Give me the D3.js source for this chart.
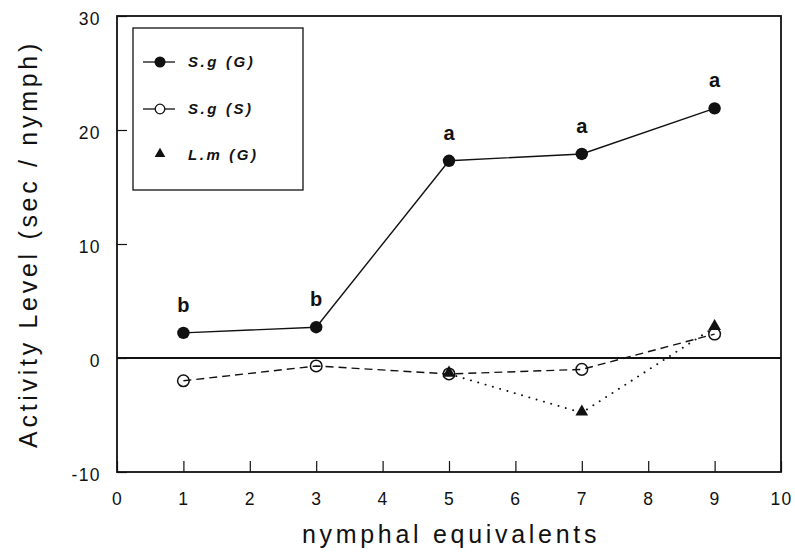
<!DOCTYPE html>
<html>
<head>
<meta charset="utf-8">
<script src="https://d3js.org/d3.v7.min.js"></script>
<style>
  html, body { margin:0; padding:0; background:#fff; }
  svg text { font-family: "Liberation Sans", Arial, Helvetica, sans-serif; fill:#111; }
  .tick text { font-size:17.5px; letter-spacing:1.4px; }
  .axis-title { font-size:25px; letter-spacing:3.7px; }
  .sig { font-size:20px; font-weight:bold; }
  .leg { font-size:15px; font-weight:bold; font-style:italic; letter-spacing:2.6px; }
</style>
</head>
<body>
<svg id="chart"></svg>
<script>
const W = 795, H = 554;

// values
const xValues = [1, 3, 5, 7, 9];
const sgG = [2.2, 2.7, 17.3, 17.9, 21.9];
const sgS = [-2.0, -0.7, -1.4, -1.0, 2.1];
const lmX = [5, 7, 9];
const lmG = [-1.4, -4.8, 2.7];
const sigLetters = ['b', 'b', 'a', 'a', 'a'];
const seriesNames = ['S.g (G)', 'S.g (S)', 'L.m (G)'];
const xTicks = [0, 1, 2, 3, 4, 5, 6, 7, 8, 9, 10];
const yTicks = [-10, 0, 10, 20, 30];

const M = {top:16, right:14, bottom:82, left:117};
const iw = W - M.left - M.right, ih = H - M.top - M.bottom;

const svg = d3.select('#chart').attr('width', W).attr('height', H);
const g = svg.append('g').attr('transform', `translate(${M.left},${M.top})`);

const x = d3.scaleLinear().domain([0, 10]).range([0, iw]);
const y = d3.scaleLinear().domain([-10, 30]).range([ih, 0]);

// axes (ticks point inward, plain hyphen for negatives)
const fmt = d => String(d);
const xAx = g.append('g').attr('transform', `translate(0,${ih})`)
  .call(d3.axisBottom(x).tickValues(xTicks).tickFormat(fmt)
    .tickSizeInner(-11).tickSizeOuter(0).tickPadding(21));
const yAx = g.append('g')
  .call(d3.axisLeft(y).tickValues(yTicks).tickFormat(fmt)
    .tickSizeInner(-10).tickSizeOuter(0).tickPadding(16));
[xAx, yAx].forEach(a => {
  a.select('.domain').remove();
  a.selectAll('.tick line').attr('stroke', '#111').attr('stroke-width', 1.2);
});
yAx.selectAll('.tick text').attr('dy', '0.47em');

// frame
g.append('rect').attr('width', iw).attr('height', ih)
  .attr('fill', 'none').attr('stroke', '#111').attr('stroke-width', 1.8);

// zero line
g.append('line').attr('x1', 0).attr('x2', iw).attr('y1', y(0)).attr('y2', y(0))
  .attr('stroke', '#111').attr('stroke-width', 1.8);

const line = d3.line().x(d => x(d[0])).y(d => y(d[1]));
const ptsG = xValues.map((v, i) => [v, sgG[i]]);
const ptsS = xValues.map((v, i) => [v, sgS[i]]);
const ptsL = lmX.map((v, i) => [v, lmG[i]]);

g.append('path').datum(ptsG).attr('d', line)
  .attr('fill', 'none').attr('stroke', '#111').attr('stroke-width', 1.4);
g.append('path').datum(ptsS).attr('d', line)
  .attr('fill', 'none').attr('stroke', '#111').attr('stroke-width', 1.4)
  .attr('stroke-dasharray', '8,5');
g.append('path').datum(ptsL).attr('d', line)
  .attr('fill', 'none').attr('stroke', '#111').attr('stroke-width', 1.9)
  .attr('stroke-linecap', 'round').attr('stroke-dasharray', '0.1,7.5');

g.selectAll('.pS').data(ptsS).join('circle')
  .attr('cx', d => x(d[0])).attr('cy', d => y(d[1])).attr('r', 5.8)
  .attr('fill', 'none').attr('stroke', '#111').attr('stroke-width', 1.5);
const tri = d3.symbol().type(d3.symbolTriangle).size(70);
g.selectAll('.pL').data(ptsL).join('path')
  .attr('transform', d => `translate(${x(d[0])},${y(d[1]) - 1})`)
  .attr('d', tri).attr('fill', '#111');
g.selectAll('.pG').data(ptsG).join('circle')
  .attr('cx', d => x(d[0])).attr('cy', d => y(d[1])).attr('r', 6.2)
  .attr('fill', '#111');

// significance letters
g.selectAll('.sig').data(ptsG).join('text').attr('class', 'sig')
  .attr('x', d => x(d[0])).attr('y', d => y(d[1]) - 21)
  .attr('text-anchor', 'middle').text((d, i) => sigLetters[i]);

// axis titles
svg.append('text').attr('class', 'axis-title')
  .attr('x', M.left + iw / 2 + 2).attr('y', 543).attr('text-anchor', 'middle')
  .text('nymphal equivalents');
svg.append('text').attr('class', 'axis-title')
  .attr('transform', `translate(37,${M.top + ih / 2}) rotate(-90)`)
  .attr('text-anchor', 'middle').text('Activity Level (sec / nymph)');

// legend
const lg = svg.append('g').attr('transform', 'translate(133,28)');
lg.append('rect').attr('width', 170).attr('height', 162)
  .attr('fill', '#fff').attr('stroke', '#111').attr('stroke-width', 1.3);
const legY = [34, 81, 127];
seriesNames.forEach((name, i) => {
  const row = lg.append('g').attr('transform', `translate(0,${legY[i]})`);
  if (i < 2) row.append('line').attr('x1', 10).attr('x2', 42)
    .attr('stroke', '#111').attr('stroke-width', 1.3);
  if (i === 0) row.append('circle').attr('cx', 27).attr('r', 5.5).attr('fill', '#111');
  if (i === 1) row.append('circle').attr('cx', 27).attr('r', 4.8).attr('fill', '#fff')
    .attr('stroke', '#111').attr('stroke-width', 1.3);
  if (i === 2) row.append('path').attr('transform', 'translate(27,-1)')
    .attr('d', d3.symbol().type(d3.symbolTriangle).size(50)).attr('fill', '#111');
  row.append('text').attr('class', 'leg').attr('x', 55).attr('y', 5).text(name);
});
</script>
</body>
</html>
